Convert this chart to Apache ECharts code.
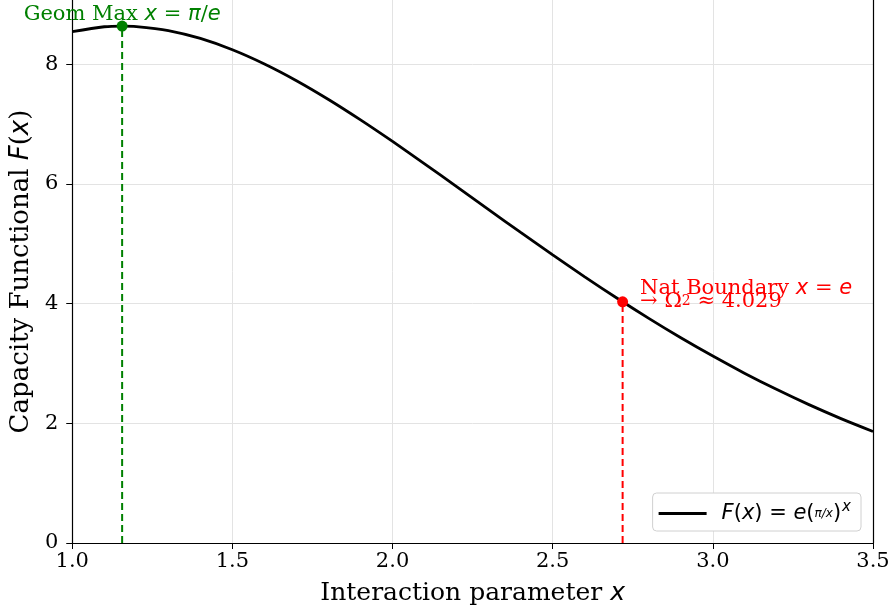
<!DOCTYPE html>
<html>
<head>
<meta charset="utf-8">
<script src="https://cdn.jsdelivr.net/npm/echarts@6/dist/echarts.min.js"></script>
<style>
  html, body { margin: 0; padding: 0; background: #fff; }
  #chart { width: 893px; height: 616px; }
</style>
</head>
<body>
<div id="chart"></div>
<script>
// curve values
const xs = [1.0, 1.1, 1.1557, 1.2, 1.3, 1.4, 1.5, 1.6, 1.7, 1.8, 1.9, 2.0, 2.1, 2.2, 2.3, 2.4,
  2.5, 2.6, 2.7, 2.8, 2.9, 3.0, 3.1, 3.2, 3.3, 3.4, 3.5];
const ys = [8.540, 8.623, 8.634, 8.627, 8.560, 8.428, 8.239, 8.001, 7.722, 7.408, 7.067, 6.707, 6.334, 5.952,
  5.569, 5.188, 4.812, 4.446, 4.092, 3.752, 3.428, 3.122, 2.833, 2.563, 2.311, 2.078, 1.863];
const geomMax = [1.1557, 8.634];
const natBoundary = [2.7183, 4.029];
const xTicks = [1.0, 1.5, 2.0, 2.5, 3.0, 3.5];
const yTicks = [0, 2, 4, 6, 8];

const serif = "DejaVu Serif";
const sans = "DejaVu Sans";

const chart = echarts.init(document.getElementById("chart"));
chart.setOption({
  animation: false,
  grid: { left: 72, right: 20, top: 0, bottom: 73 },
  xAxis: {
    type: "value",
    min: xTicks[0],
    max: xTicks[xTicks.length - 1],
    interval: 0.5,
    name: "{t|Interaction parameter }{i|x}",
    nameLocation: "middle",
    nameGap: 38,
    nameTextStyle: {
      rich: {
        t: { fontFamily: serif, fontSize: 25, color: "#000" },
        i: { fontFamily: sans, fontStyle: "italic", fontSize: 25, color: "#000" },
      },
    },
    axisLine: { lineStyle: { color: "#000", width: 1.2 } },
    axisTick: { inside: false, length: 6, lineStyle: { color: "#000" } },
    axisLabel: {
      fontFamily: serif, fontSize: 21, color: "#000", margin: 8,
      formatter: (v) => v.toFixed(1),
    },
    splitLine: { show: true, lineStyle: { color: "#e3e3e3", width: 1 } },
  },
  yAxis: [
    {
      type: "value",
      min: 0,
      max: 9.07,
      interval: 2,
      name: "{t|Capacity Functional }{i|F}{t|(}{i|x}{t|)}",
      nameLocation: "middle",
      nameGap: 36,
      nameTextStyle: {
        rich: {
          t: { fontFamily: serif, fontSize: 26, color: "#000" },
          i: { fontFamily: sans, fontStyle: "italic", fontSize: 26, color: "#000" },
        },
      },
      axisLine: { show: true, lineStyle: { color: "#000", width: 1.2 } },
      axisTick: { show: true, length: 6, customValues: yTicks, lineStyle: { color: "#000" } },
      axisLabel: {
        fontFamily: serif, fontSize: 21, color: "#000", margin: 14,
        customValues: yTicks,
        formatter: (v) => String(v),
      },
      splitLine: { show: true, lineStyle: { color: "#e3e3e3", width: 1 } },
    },
    {
      type: "value",
      position: "right",
      min: 0,
      max: 9.07,
      axisLine: { show: true, lineStyle: { color: "#000", width: 1.2 } },
      axisTick: { show: false },
      axisLabel: { show: false },
      splitLine: { show: false },
    },
  ],
  legend: {
    data: ["F(x)"],
    right: 32,
    bottom: 85,
    backgroundColor: "#fff",
    borderColor: "#d0d0d0",
    borderWidth: 1,
    borderRadius: 4,
    padding: [7, 10, 7, 6],
    itemWidth: 48,
    itemHeight: 3,
    icon: "rect",
    formatter: () =>
      "{p|F}{t|(}{i|x}{t|) = }{i|e}{t|(}{f|π/x}{t|)}{s|x}",
    textStyle: {
      rich: {
        p: { fontFamily: sans, fontStyle: "italic", fontSize: 21, color: "#000", padding: [0, 0, 0, 10] },
        t: { fontFamily: sans, fontSize: 21, color: "#000" },
        i: { fontFamily: sans, fontStyle: "italic", fontSize: 21, color: "#000" },
        f: { fontFamily: sans, fontStyle: "italic", fontSize: 12, color: "#000" },
        s: { fontFamily: sans, fontStyle: "italic", fontSize: 15, color: "#000", verticalAlign: "top", padding: [0, 0, 12, 1] },
      },
    },
  },
  series: [
    {
      name: "F(x)",
      type: "line",
      data: xs.map((x, i) => [x, ys[i]]),
      smooth: 0.3,
      showSymbol: false,
      lineStyle: { color: "#000", width: 2.8 },
      itemStyle: { color: "#000" },
      z: 3,
    },
    {
      type: "line",
      data: [[geomMax[0], 0], geomMax],
      showSymbol: false,
      lineStyle: { color: "#008000", width: 2, type: [7, 4] },
      silent: true,
      z: 2,
    },
    {
      type: "line",
      data: [[natBoundary[0], 0], natBoundary],
      showSymbol: false,
      lineStyle: { color: "#ff0000", width: 2, type: [7, 4] },
      silent: true,
      z: 2,
    },
    {
      type: "scatter",
      data: [geomMax],
      symbolSize: 11,
      itemStyle: { color: "#008000", opacity: 1 },
      z: 4,
      label: {
        show: true,
        position: "top",
        distance: 0,
        offset: [0, 4],
        formatter: "{t|Geom Max }{i|x}{t| = }{i|π}{t|/}{i|e}",
        rich: {
          t: { fontFamily: serif, fontSize: 21, color: "#008000" },
          i: { fontFamily: sans, fontStyle: "italic", fontSize: 21, color: "#008000" },
        },
      },
    },
    {
      type: "scatter",
      data: [natBoundary],
      symbolSize: 11,
      itemStyle: { color: "#ff0000", opacity: 1 },
      z: 4,
      label: {
        show: true,
        position: "right",
        distance: 12,
        offset: [0, -7],
        formatter: "{t|Nat Boundary }{i|x}{t| = }{i|e}\n{t|→ Ω}{s|2}{t| ≈ 4.029}",
        rich: {
          t: { fontFamily: serif, fontSize: 21, color: "#ff0000", lineHeight: 13 },
          i: { fontFamily: sans, fontStyle: "italic", fontSize: 21, color: "#ff0000", lineHeight: 13 },
          s: { fontFamily: serif, fontSize: 14, color: "#ff0000", lineHeight: 13, verticalAlign: "top" },
        },
      },
    },
  ],
});
</script>
</body>
</html>
